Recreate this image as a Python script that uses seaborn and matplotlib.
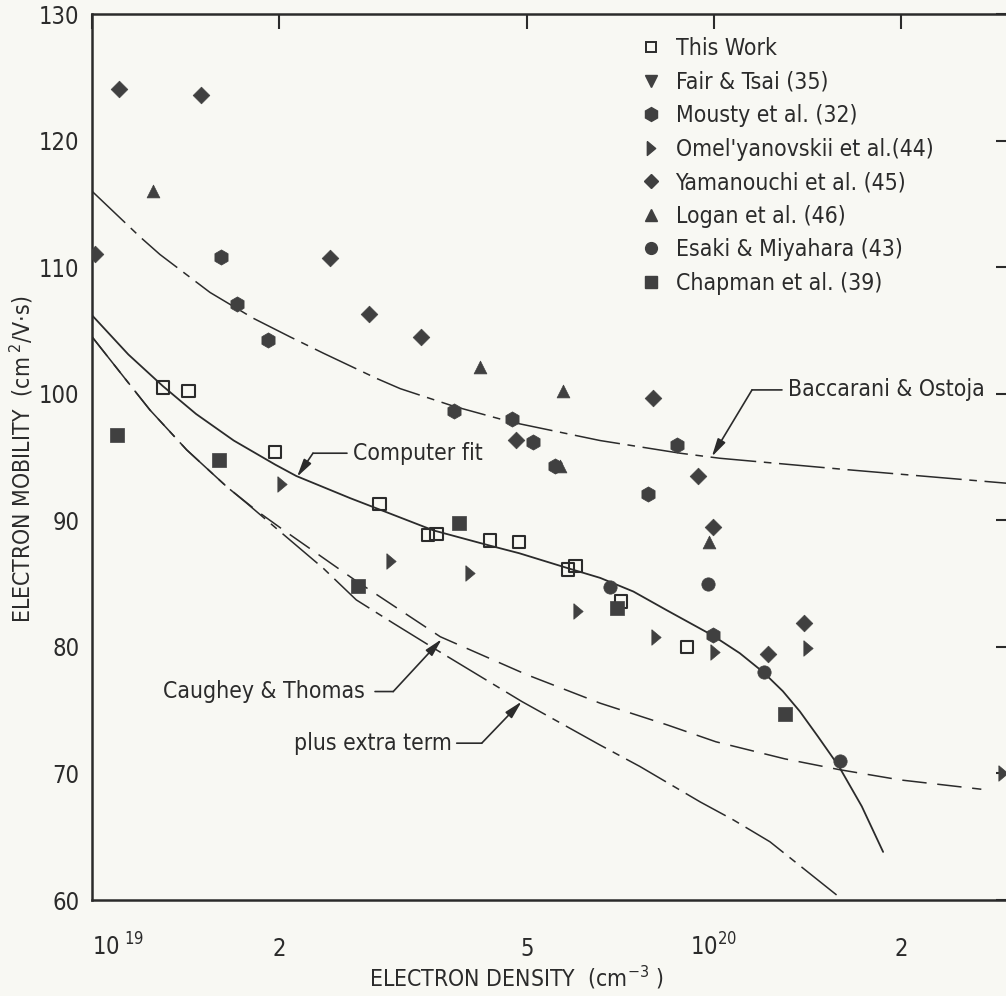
import matplotlib
matplotlib.use("Agg")
import matplotlib.pyplot as plt
from matplotlib import font_manager
from matplotlib.lines import Line2D
from matplotlib.ticker import NullLocator, FixedLocator
import seaborn as sns

# ---------------- data ----------------
this_work_x = [1.30e19, 1.43e19, 1.97e19, 2.90e19, 3.47e19, 3.58e19, 4.36e19, 4.86e19, 5.83e19, 5.99e19, 7.08e19, 9.04e19]
this_work_y = [100.5, 100.2, 95.4, 91.3, 88.85, 88.9, 88.4, 88.3, 86.1, 86.4, 83.6, 80.0]

fair_x = []
fair_y = []

mousty_x = [1.61e19, 1.71e19, 1.92e19, 3.82e19, 4.73e19, 5.11e19, 5.55e19, 7.82e19, 8.71e19, 9.95e19]
mousty_y = [110.8, 107.1, 104.25, 98.6, 98.0, 96.2, 94.3, 92.05, 95.95, 80.9]

omel_x = [2.02e19, 3.03e19, 4.05e19, 6.04e19, 8.08e19, 1.004e20, 1.418e20, 2.92e20]
omel_y = [92.9, 86.8, 85.8, 82.8, 80.8, 79.6, 79.9, 70.0]

yama_x = [1.01e19, 1.105e19, 1.497e19, 2.41e19, 2.79e19, 3.38e19, 4.80e19, 7.99e19, 9.43e19, 9.97e19, 1.223e20, 1.395e20]
yama_y = [111.0, 124.05, 123.6, 110.7, 106.3, 104.5, 96.35, 99.7, 93.5, 89.5, 79.45, 81.9]

logan_x = [1.255e19, 4.20e19, 5.72e19, 5.65e19, 9.82e19]
logan_y = [116.05, 102.15, 100.2, 94.3, 88.3]

esaki_x = [6.80e19, 9.79e19, 1.204e20, 1.595e20]
esaki_y = [84.7, 85.0, 78.0, 70.95]

chapman_x = [1.098e19, 1.60e19, 2.68e19, 3.895e19, 6.99e19, 1.301e20]
chapman_y = [96.75, 94.75, 84.8, 89.75, 83.1, 74.7]

fit_x = [1.0e19, 1.144e19, 1.3e19, 1.47e19, 1.69e19, 1.97e19, 2.13e19, 2.6e19, 2.9e19, 3.54e19, 4.36e19,
         4.86e19, 5.79e19, 6.56e19, 7.42e19, 8.39e19, 9.95e19, 1.1e20, 1.2e20, 1.29e20, 1.374e20, 1.47e20,
         1.588e20, 1.728e20, 1.87e20]
fit_y = [106.2, 103.1, 100.6, 98.4, 96.3, 94.4, 93.5, 91.75, 90.85, 89.2, 88.0,
         87.4, 86.25, 85.45, 84.37, 82.9, 80.9, 79.5, 78.0, 76.5, 74.9, 72.9,
         70.55, 67.4, 63.8]

bacc_x = [1.0e19, 1.194e19, 1.286e19, 1.548e19, 1.817e19, 2.08e19, 2.355e19, 2.87e19, 3.13e19, 3.82e19,
          4.73e19, 6.56e19, 8.82e19, 1.022e20, 1.635e20, 3.0e20]
bacc_y = [116.0, 112.4, 111.0, 108.0, 105.96, 104.5, 103.2, 101.2, 100.4, 99.0,
          97.75, 96.3, 95.3, 94.9, 94.0, 92.9]

caughey_x = [1.0e19, 1.151e19, 1.239e19, 1.42e19, 1.646e19, 1.84e19, 2.03e19, 2.66e19, 3.63e19, 5.0e19,
             6.56e19, 8.39e19, 1.007e20, 1.30e20, 1.59e20, 1.99e20, 2.69e20]
caughey_y = [104.5, 100.7, 98.72, 95.56, 92.66, 90.75, 89.24, 85.2, 80.8, 77.8,
             75.55, 73.85, 72.5, 71.15, 70.3, 69.49, 68.75]

extra_x = [1.0e19, 1.151e19, 1.239e19, 1.42e19, 1.646e19, 1.773e19, 2.08e19, 2.355e19, 2.66e19, 3.05e19,
           3.58e19, 4.91e19, 6.56e19, 7.6e19, 9.5e19, 1.074e20, 1.23e20, 1.574e20]
extra_y = [104.5, 100.7, 98.72, 95.56, 92.66, 91.35, 88.45, 86.2, 83.71, 81.87,
           79.76, 75.68, 72.24, 70.55, 67.75, 66.33, 64.6, 60.4]

x_ticks = [1e19, 2e19, 5e19, 1e20, 2e20]
x_ticklabels = [r"$\mathregular{10^{\ 19}}$", "2", "5", r"$\mathregular{10^{20}}$", "2"]
y_ticks = [60, 70, 80, 90, 100, 110, 120, 130]

legend_labels = ["This Work", "Fair & Tsai (35)", "Mousty et al. (32)", "Omel'yanovskii et al.(44)",
                 "Yamanouchi et al. (45)", "Logan et al. (46)", "Esaki & Miyahara (43)", "Chapman et al. (39)"]

# ---------------- style ----------------
sns.set_theme(style="white")
names = {f.name for f in font_manager.fontManager.ttflist}
if "Liberation Sans Narrow" in names:
    fam = "Liberation Sans Narrow"
else:
    fam = "DejaVu Sans"
    plt.rcParams["font.stretch"] = "condensed"
plt.rcParams["font.family"] = [fam, "DejaVu Sans"]
plt.rcParams["mathtext.fontset"] = "custom"
plt.rcParams["mathtext.rm"] = fam
plt.rcParams["mathtext.it"] = fam
plt.rcParams["mathtext.bf"] = fam

bg = "#f8f8f3"
ink = "#2b2b2b"
mk = "#404040"
FS = 16.5
TFS = 17

fig = plt.figure(figsize=(10.06, 9.96), dpi=100, facecolor=bg)
ax = fig.add_axes([92 / 1006, 96 / 996, 918.8 / 1006, 886 / 996])
ax.set_facecolor(bg)
ax.set_xscale("log")

# ---------------- curves ----------------
sns.lineplot(x=fit_x, y=fit_y, ax=ax, color=ink, lw=1.3, sort=False, estimator=None)
sns.lineplot(x=bacc_x, y=bacc_y, ax=ax, color=ink, lw=1.1, sort=False, estimator=None,
             linestyle=(0, (30, 5, 5, 5)))
sns.lineplot(x=caughey_x, y=caughey_y, ax=ax, color=ink, lw=1.1, sort=False, estimator=None,
             linestyle=(0, (16, 7)))
sns.lineplot(x=extra_x, y=extra_y, ax=ax, color=ink, lw=1.1, sort=False, estimator=None,
             linestyle=(0, (30, 5, 5, 5)))

# ---------------- points ----------------
omel_marker = [(-0.6, 1.0), (0.6, 0.0), (-0.6, -1.0), (-0.6, 1.0)]
sns.scatterplot(x=this_work_x, y=this_work_y, ax=ax, marker="s", s=80,
                facecolor="none", edgecolor=ink, linewidth=1.5, zorder=5)
sns.scatterplot(x=mousty_x, y=mousty_y, ax=ax, marker="h", s=120, color=mk, edgecolor=mk, linewidth=0.5, zorder=5)
sns.scatterplot(x=omel_x, y=omel_y, ax=ax, marker=omel_marker, s=125, color=mk, edgecolor=mk, linewidth=0.5, zorder=5)
sns.scatterplot(x=yama_x, y=yama_y, ax=ax, marker="D", s=72, color=mk, edgecolor=mk, linewidth=0.5, zorder=5)
sns.scatterplot(x=logan_x, y=logan_y, ax=ax, marker="^", s=85, color=mk, edgecolor=mk, linewidth=0.5, zorder=5)
sns.scatterplot(x=esaki_x, y=esaki_y, ax=ax, marker="o", s=92, color=mk, edgecolor=mk, linewidth=0.5, zorder=5)
sns.scatterplot(x=chapman_x, y=chapman_y, ax=ax, marker="s", s=88, color=mk, edgecolor=mk, linewidth=0.5, zorder=5)

# ---------------- axes ----------------
ax.set_xlim(1e19, 3e20)
ax.set_ylim(60, 130)
ax.xaxis.set_major_locator(FixedLocator(x_ticks))
ax.xaxis.set_minor_locator(NullLocator())
ax.set_xticklabels(x_ticklabels)
ax.set_yticks(y_ticks)
ax.set_yticklabels([str(v) for v in y_ticks])
ax.tick_params(axis="both", which="major", direction="in", length=11, width=1.5,
               colors=ink, labelsize=TFS, top=True, right=True)
ax.tick_params(axis="y", pad=9)
ax.tick_params(axis="x", pad=40)
for lab in ax.get_xticklabels():
    lab.set_verticalalignment("baseline")
lbls = ax.get_xticklabels()
lbls[0].set_horizontalalignment("left")

for side in ["left", "top", "bottom"]:
    ax.spines[side].set_linewidth(1.8)
    ax.spines[side].set_color(ink)
ax.spines["right"].set_visible(False)

ax.set_xlabel(r"ELECTRON DENSITY  (cm$^{-3}$ )", fontsize=FS, color=ink)
ax.xaxis.set_label_coords(0.4615, -0.073)
ax.set_ylabel(r"ELECTRON MOBILITY  (cm$^{\ 2}$/V$\cdot$s)", fontsize=FS, color=ink)
ax.yaxis.set_label_coords(-0.062, 0.497)

# ---------------- annotations ----------------
arrow = dict(arrowstyle="-|>,head_length=0.9,head_width=0.22", color=ink, lw=1.2, shrinkA=0, shrinkB=0)
line = dict(arrowstyle="-", color=ink, lw=1.2, shrinkA=0, shrinkB=0)

ax.text(2.63e19, 95.3, "Computer fit", fontsize=FS, color=ink, ha="left", va="center")
ax.annotate("", xy=(2.266e19, 95.3), xytext=(2.57e19, 95.3), arrowprops=line)
ax.annotate("", xy=(2.136e19, 93.43), xytext=(2.266e19, 95.3), arrowprops=arrow)

ax.text(1.315e20, 100.3, "Baccarani & Ostoja", fontsize=FS, color=ink, ha="left", va="center")
ax.annotate("", xy=(1.151e20, 100.3), xytext=(1.286e20, 100.3), arrowprops=line)
ax.annotate("", xy=(9.92e19, 95.03), xytext=(1.151e20, 100.3), arrowprops=arrow)

ax.text(2.747e19, 76.47, "Caughey & Thomas", fontsize=FS, color=ink, ha="right", va="center")
ax.annotate("", xy=(3.05e19, 76.47), xytext=(2.851e19, 76.47), arrowprops=line)
ax.annotate("", xy=(3.65e19, 80.61), xytext=(3.05e19, 76.47), arrowprops=arrow)

ax.text(3.788e19, 72.39, "plus extra term", fontsize=FS, color=ink, ha="right", va="center")
ax.annotate("", xy=(4.232e19, 72.39), xytext=(3.858e19, 72.39), arrowprops=line)
ax.annotate("", xy=(4.907e19, 75.68), xytext=(4.232e19, 72.39), arrowprops=arrow)

# ---------------- legend ----------------
handles = [
    Line2D([], [], ls="", marker="s", ms=7.5, mfc="none", mec=ink, mew=1.4),
    Line2D([], [], ls="", marker="v", ms=8, color=mk),
    Line2D([], [], ls="", marker="h", ms=10, color=mk),
    Line2D([], [], ls="", marker=omel_marker, ms=10, color=mk),
    Line2D([], [], ls="", marker="D", ms=7.5, color=mk),
    Line2D([], [], ls="", marker="^", ms=8, color=mk),
    Line2D([], [], ls="", marker="o", ms=8.5, color=mk),
    Line2D([], [], ls="", marker="s", ms=8, color=mk),
]
ax.legend(handles, legend_labels, loc="upper left", bbox_to_anchor=(640 / 1006, (996 - 37) / 996),
          bbox_transform=fig.transFigure, frameon=False, fontsize=FS, handlelength=1.0,
          handletextpad=0.55, labelspacing=0.46, borderpad=0, borderaxespad=0,
          labelcolor=ink)

fig.savefig("out.png", dpi=100, facecolor=bg)
